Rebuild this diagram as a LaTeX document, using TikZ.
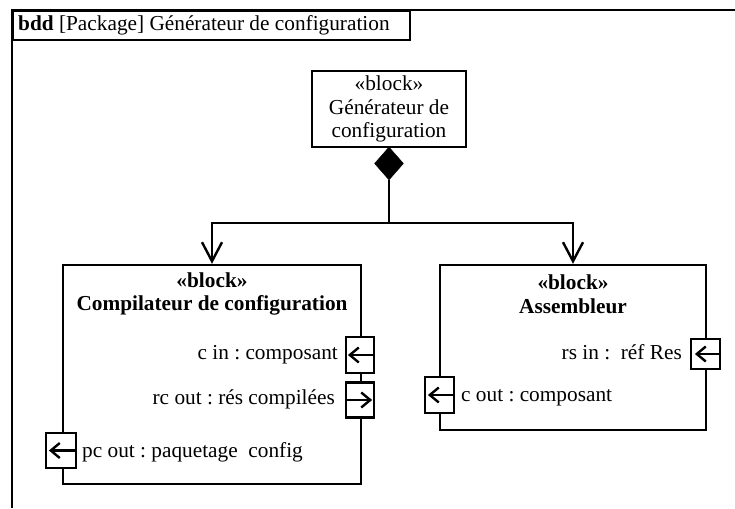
\documentclass[tikz,border=0pt]{standalone}
\usepackage{fontspec}
\setmainfont{Liberation Serif}
\usetikzlibrary{arrows.meta,shapes.geometric}
\frenchspacing
\begin{document}
\frenchspacing
\begin{tikzpicture}[x=1pt,y=-1pt,
  txt/.style={font=\fontsize{21.3pt}{23.5pt}\selectfont, inner sep=0pt},
  lbl/.style={txt, text height=15pt, text depth=4pt},
  blockbox/.style={draw, line width=2.4pt, inner sep=0pt},
  port/.style={draw, fill=white, line width=2.2pt, inner sep=0pt},
  portarrow/.style={line width=2.4pt, -{Straight Barb[length=9pt,width=15pt]}},
  conn/.style={line width=2.4pt, -{Straight Barb[length=19pt,width=20pt]}},
  frameline/.style={line width=2.2pt}
]
\useasboundingbox (0,0) rectangle (735,508);
% frame
\draw[frameline] (12,508) -- (12,10) -- (735,10);
\node[draw, line width=2.2pt, minimum width=397pt, minimum height=29pt, inner sep=0pt, anchor=north west] (tab) at (12,10) {};
\node[lbl, anchor=west] (title) at (18,25) {\textbf{bdd} [Package] Générateur de configuration};

% top block
\node[blockbox, minimum width=154pt, minimum height=76pt] (gen) at (389,109) {};
\node[txt, align=center] (genT) at (389,109) {«block»\\Générateur de\\configuration};
\node[diamond, fill=black, draw=black, minimum width=29pt, minimum height=33pt, inner sep=0pt] (dia) at (389,163.5) {};
\coordinate (jn) at (389,223);

% left block
\node[blockbox, minimum width=298pt, minimum height=219pt] (comp) at (212,374.5) {};
\node[txt, align=center, font=\fontsize{21.3pt}{23.5pt}\selectfont\bfseries] (compT) at (212,294) {«block»\\Compilateur de configuration};

% right block
\node[blockbox, minimum width=266pt, minimum height=165pt] (asm) at (573,347.5) {};
\node[txt, align=center, font=\fontsize{21.3pt}{23.5pt}\selectfont\bfseries] (asmT) at (573,294) {«block»\\Assembleur};

% connectors
\draw[line width=2.4pt] (dia.south) -- (jn);
\draw[conn] (jn) -| (comp.north);
\draw[conn] (jn) -| (asm.north);

% ports of left block
\node[port, minimum width=28pt, minimum height=36pt] (cin) at (360,355) {};
\draw[portarrow] (cin.east) -- ([xshift=3pt]cin.west);
\node[lbl, anchor=east] (cinL) at (338,354) {c in : composant};

\node[port, minimum width=28pt, minimum height=35pt] (rcout) at (360,400) {};
\draw[portarrow] (rcout.west) -- ([xshift=-3pt]rcout.east);
\node[lbl, anchor=east] (rcoutL) at (335,399) {rc out : rés compilées};

\node[port, minimum width=30pt, minimum height=35pt] (pcout) at (61,450.5) {};
\draw[portarrow] (pcout.east) -- ([xshift=4pt]pcout.west);
\node[lbl, anchor=west] (pcoutL) at (82,452) {pc out : paquetage~~config};

% ports of right block
\node[port, minimum width=29pt, minimum height=30pt] (rsin) at (705.5,354) {};
\draw[portarrow] (rsin.east) -- ([xshift=5pt]rsin.west);
\node[lbl, anchor=east] (rsinL) at (682,354) {rs in :~~réf Res};

\node[port, minimum width=29pt, minimum height=36pt] (cout) at (439.5,395) {};
\draw[portarrow] (cout.east) -- ([xshift=4pt]cout.west);
\node[lbl, anchor=west] (coutL) at (461,396) {c out : composant};
\end{tikzpicture}
\end{document}
